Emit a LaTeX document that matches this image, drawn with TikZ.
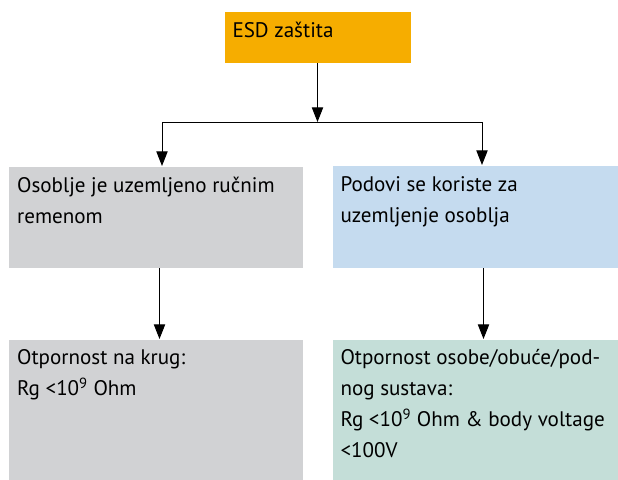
\documentclass[tikz,border=0pt]{standalone}
\usepackage{fontspec}
\setmainfont{PT Sans}
\usetikzlibrary{arrows.meta}

\definecolor{esdorange}{RGB}{246,173,0}
\definecolor{boxgray}{RGB}{209,210,212}
\definecolor{boxblue}{RGB}{197,219,239}
\definecolor{boxgreen}{RGB}{196,222,216}

\tikzset{every picture/.style={line width=0.75pt}}
\tikzset{
  box/.style={rectangle, inner sep=0pt, anchor=north west},
  boxtext/.style={anchor=north west, inner sep=0pt, align=left, font=\fontsize{15.8}{23.25}\selectfont},
  arr/.style={-{Triangle[length=11pt,width=8.5pt]}}
}

\begin{document}
\begin{tikzpicture}[x=0.75pt,y=0.75pt,yscale=-1,xscale=1]
\useasboundingbox (0,0) rectangle (618,479);

%Boxes
\node[box, fill=esdorange, minimum width=139.5pt, minimum height=38.25pt] (esd) at (224,11) {};
\node[box, fill=boxgray, minimum width=220.5pt, minimum height=75.75pt] (osoblje) at (8,166) {};
\node[box, fill=boxblue, minimum width=214.5pt, minimum height=76.5pt] (podovi) at (332,165) {};
\node[box, fill=boxgray, minimum width=220.5pt, minimum height=105pt] (krug) at (8,339) {};
\node[box, fill=boxgreen, minimum width=214.5pt, minimum height=105pt] (sustav) at (332,339) {};

% Text Node
\node[boxtext] (esdtxt) at ([xshift=6pt,yshift=8pt]esd.north west) {ESD zaštita};
% Text Node
\node[boxtext] (osobljetxt) at ([xshift=6.5pt,yshift=8pt]osoblje.north west) {Osoblje je uzemljeno ručnim\\remenom};
% Text Node
\node[boxtext] (podovitxt) at ([xshift=6pt,yshift=8pt]podovi.north west) {Podovi se koriste za\\uzemljenje osoblja};
% Text Node
\node[boxtext] (krugtxt) at ([xshift=6.5pt,yshift=7.5pt]krug.north west) {Otpornost na krug:\\Rg <10\textsuperscript{9} Ohm};
% Text Node
\node[boxtext] (sustavtxt) at ([xshift=6pt,yshift=7.5pt]sustav.north west) {Otpornost osobe/obuće/pod-\\nog sustava:\\Rg <10\textsuperscript{9} Ohm \& body voltage\\<100V};

%Straight Lines
\coordinate (barL) at (162,122);
\coordinate (barR) at (482,122);
\draw[arr] (esd.south) -- (esd.south |- barL);
\draw (barL) -- (barR);
\draw[arr] (barL) -- (barL |- osoblje.north);
\draw[arr] (barR) -- (barR |- podovi.north);
\draw[arr] ([xshift=3pt]osoblje.south) -- ([xshift=3pt]krug.north);
\draw[arr] ([xshift=6pt]podovi.south) -- ([xshift=6pt]sustav.north);

\end{tikzpicture}
\end{document}
